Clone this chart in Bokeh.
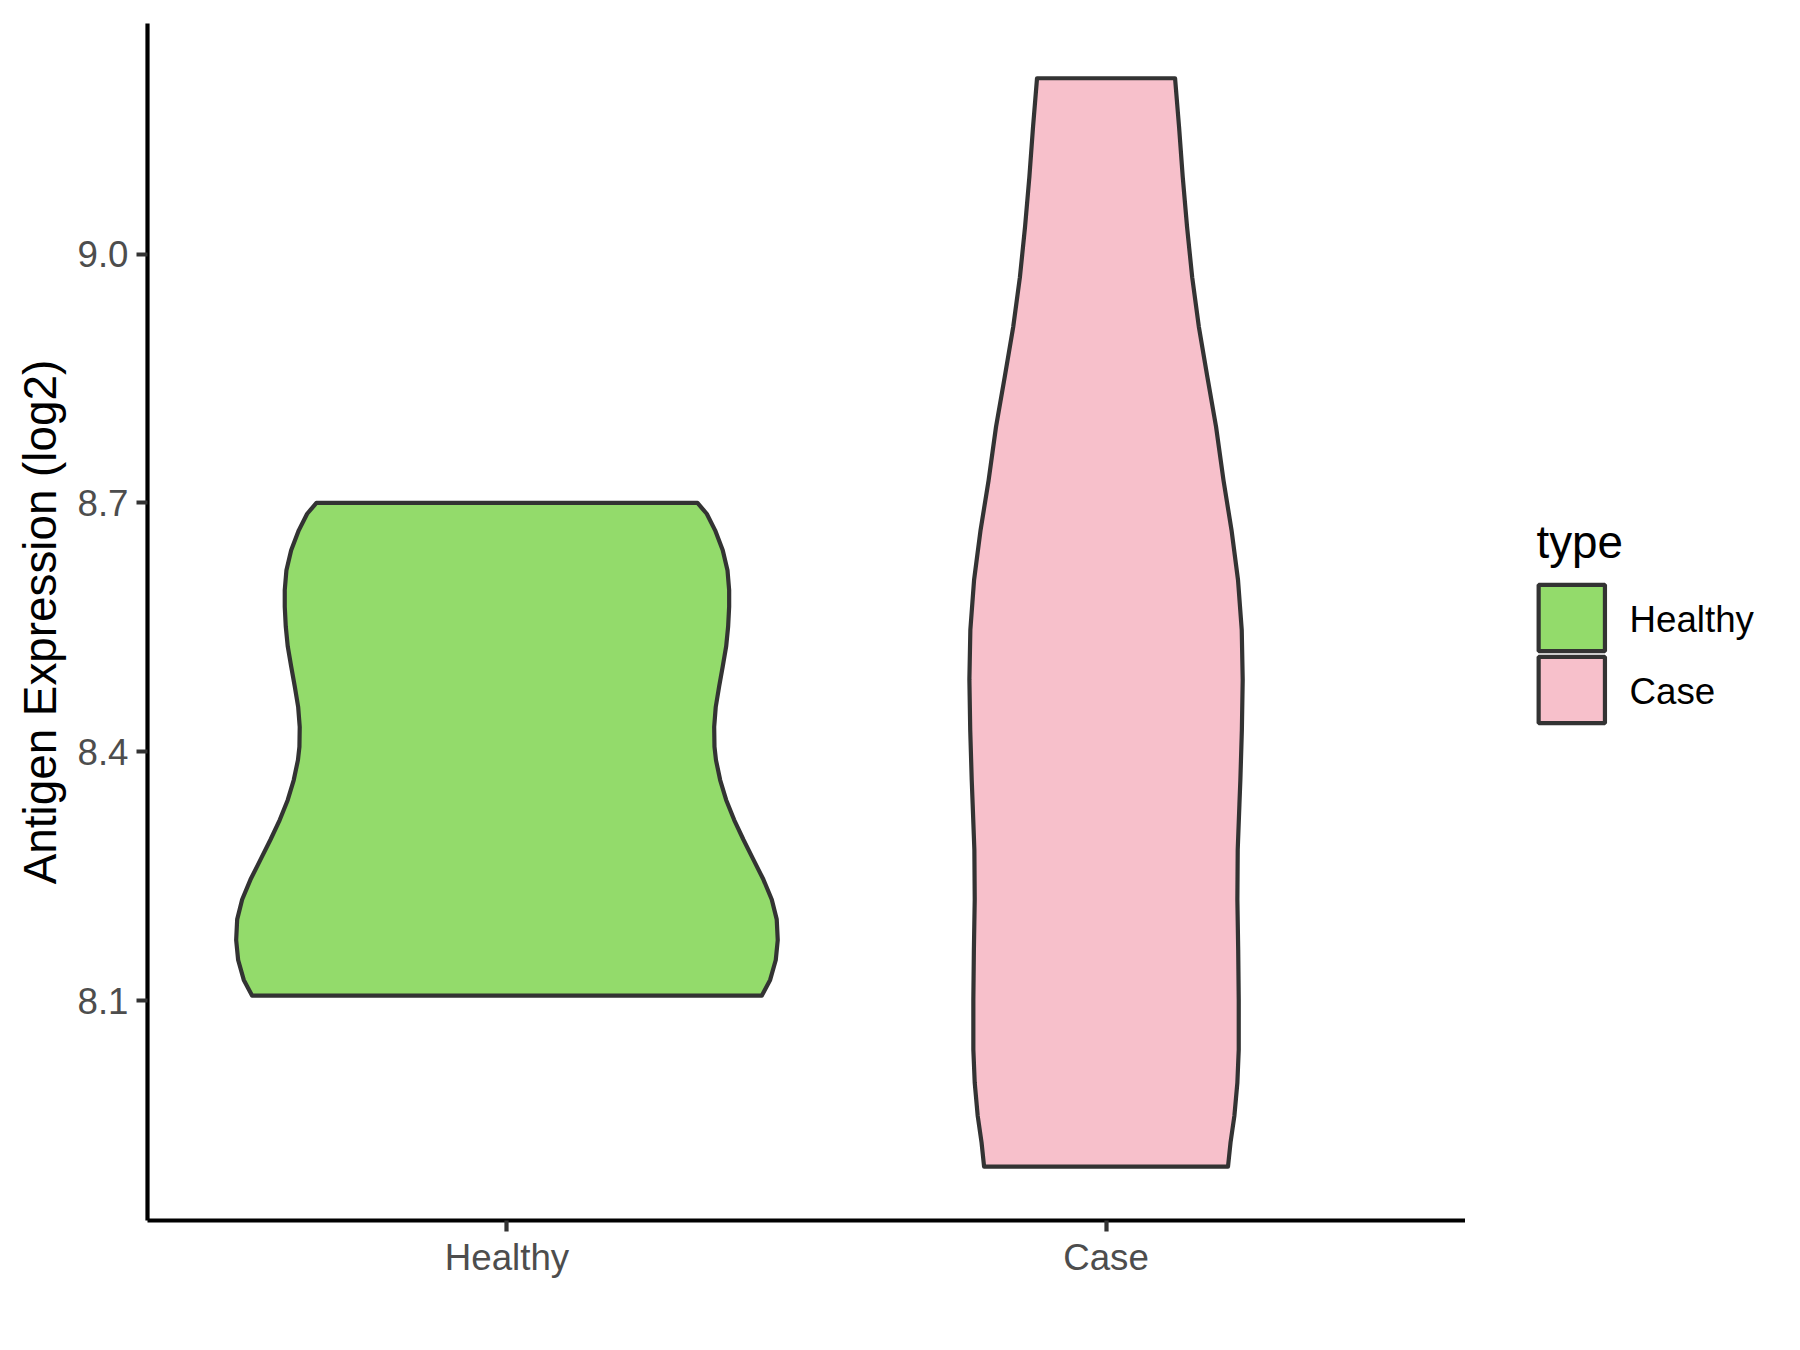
from bokeh.plotting import figure
from bokeh.layouts import row
from bokeh.models import FactorRange, Range1d, FixedTicker
from bokeh.core.properties import value
from bokeh.embed import file_html
from bokeh.resources import INLINE

# ---- data ----
categories = ["Healthy", "Case"]
fill_colors = ["#93DB6B", "#F7C0CB"]

# Healthy violin: expression values (log2) and half-width of the violin at that value
healthy_y = [8.106, 8.125, 8.149, 8.173, 8.198, 8.222, 8.246, 8.270, 8.294, 8.318,
             8.342, 8.366, 8.390, 8.406, 8.430, 8.454, 8.479, 8.503, 8.527, 8.551,
             8.575, 8.595, 8.619, 8.643, 8.667, 8.687, 8.700]
healthy_hw = [0.4253, 0.4393, 0.4487, 0.4520, 0.4503, 0.4420, 0.4281, 0.4114, 0.3948, 0.3792,
              0.3659, 0.3559, 0.3489, 0.3464, 0.3459, 0.3485, 0.3542, 0.3602, 0.3659, 0.3692,
              0.3709, 0.3709, 0.3681, 0.3602, 0.3475, 0.3335, 0.3180]

# Case violin
case_y = [7.900, 7.929, 7.961, 8.001, 8.041, 8.101, 8.161, 8.222, 8.282, 8.336,
          8.366, 8.426, 8.487, 8.547, 8.607, 8.667, 8.727, 8.792, 8.852, 8.912,
          8.972, 9.033, 9.093, 9.153, 9.212]
case_hw = [0.2036, 0.2078, 0.2142, 0.2192, 0.2215, 0.2215, 0.2206, 0.2192, 0.2198, 0.2226,
           0.2242, 0.2267, 0.2281, 0.2265, 0.2203, 0.2095, 0.1961, 0.1836, 0.1691, 0.1550,
           0.1438, 0.1352, 0.1280, 0.1219, 0.1152]

y_ticks = [8.1, 8.4, 8.7, 9.0]
y_tick_labels = ["8.1", "8.4", "8.7", "9.0"]
y_label = "Antigen Expression (log2)"
legend_title = "type"

FONT = "Liberation Sans"
LW = 4.2
OUTLINE = "#333333"
BORDER_TOP, FRAME_H, BORDER_BOTTOM = 23, 1197, 125

# ---------------- main panel ----------------
p = figure(
    x_range=FactorRange(*categories, range_padding=0.1, range_padding_units="absolute"),
    y_range=Range1d(7.835, 9.278),
    frame_width=1318, frame_height=FRAME_H,
    min_border_left=147, min_border_top=BORDER_TOP, min_border_right=0,
    min_border_bottom=BORDER_BOTTOM,
    output_backend="svg", toolbar_location=None,
    background_fill_color="white", border_fill_color="white",
)
p.outline_line_color = None
p.xgrid.visible = False
p.ygrid.visible = False

for cat, ys, hws, col in [(categories[0], healthy_y, healthy_hw, fill_colors[0]),
                          (categories[1], case_y, case_hw, fill_colors[1])]:
    xs = [(cat, -w) for w in hws] + [(cat, w) for w in reversed(hws)]
    yy = list(ys) + list(reversed(ys))
    p.patch(xs, yy, fill_color=col, line_color=OUTLINE, line_width=LW, line_join="round")

for ax in (p.xaxis[0], p.yaxis[0]):
    ax.axis_line_color = "black"
    ax.axis_line_width = LW
    ax.major_tick_line_color = OUTLINE
    ax.major_tick_line_width = LW
    ax.major_tick_out = 11
    ax.major_tick_in = 0
    ax.minor_tick_line_color = None
    ax.major_label_text_font = FONT
    ax.major_label_text_font_size = "36.7px"
    ax.major_label_text_color = "#4D4D4D"
    ax.major_label_standoff = 8
p.xaxis.major_label_standoff = 5

p.yaxis.ticker = FixedTicker(ticks=y_ticks)
p.yaxis.major_label_overrides = {t: l for t, l in zip(y_ticks, y_tick_labels)}
p.yaxis.axis_label = y_label
p.yaxis.axis_label_text_font = FONT
p.yaxis.axis_label_text_font_size = "45.8px"
p.yaxis.axis_label_text_font_style = "normal"
p.yaxis.axis_label_text_color = "black"
p.yaxis.axis_label_standoff = 8

# ---------------- legend panel (page-pixel coordinates, y downwards) ----------------
LEG_W = 335
q = figure(
    width=LEG_W, height=BORDER_TOP + FRAME_H + BORDER_BOTTOM,
    x_range=Range1d(0, LEG_W),
    y_range=Range1d(BORDER_TOP + FRAME_H, BORDER_TOP),
    x_axis_location=None, y_axis_location=None,
    min_border_left=0, min_border_right=0,
    min_border_top=BORDER_TOP, min_border_bottom=BORDER_BOTTOM,
    output_backend="svg", toolbar_location=None,
    background_fill_color="white", border_fill_color="white",
)
q.outline_line_color = None
q.grid.visible = False

key_cx, key_size = 106.3, 66.3
key_cy0, key_pitch = 617.5, 72
key_cy = [key_cy0 + i * key_pitch for i in range(len(categories))]
q.rect(x=[key_cx] * len(categories), y=key_cy, width=key_size, height=key_size,
       fill_color=fill_colors, line_color=OUTLINE, line_width=LW)
q.text(x=[164] * len(categories), y=[c + 1.5 for c in key_cy], text=categories,
       text_font=value(FONT), text_font_size="36.7px", text_color="black",
       text_align="left", text_baseline="alphabetic")
q.text(x=[71], y=[542], text=[legend_title],
       text_font=value(FONT), text_font_size="45.8px", text_color="black",
       text_align="left", text_baseline="alphabetic")

layout = row(p, q, spacing=0)
open("out.html", "w").write(file_html(layout, INLINE))
